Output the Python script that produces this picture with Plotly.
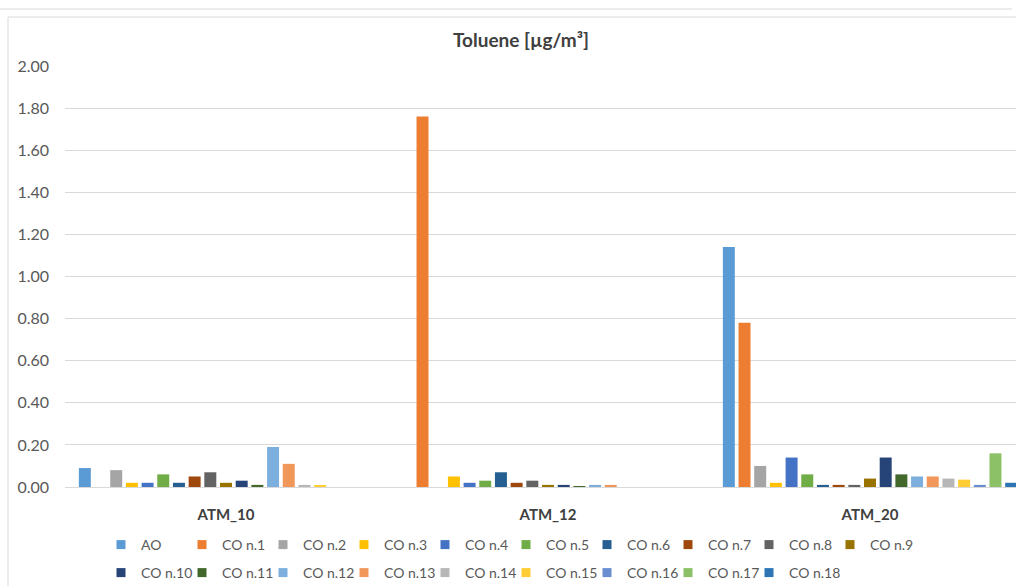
import plotly.graph_objects as go

# Sampling sites on the category axis
sites = ["ATM_10", "ATM_12", "ATM_20"]

# Series names (ambient reference + individual samples)
series_names = ["AO", "CO n.1", "CO n.2", "CO n.3", "CO n.4", "CO n.5", "CO n.6",
                "CO n.7", "CO n.8", "CO n.9", "CO n.10", "CO n.11", "CO n.12",
                "CO n.13", "CO n.14", "CO n.15", "CO n.16", "CO n.17", "CO n.18"]

# Toluene concentration per series at ATM_10, ATM_12, ATM_20 [µg/m³]
ao = [0.09, 0.00, 1.14]
co_1 = [0.00, 1.76, 0.78]
co_2 = [0.08, 0.00, 0.10]
co_3 = [0.02, 0.05, 0.02]
co_4 = [0.02, 0.02, 0.14]
co_5 = [0.06, 0.03, 0.06]
co_6 = [0.02, 0.07, 0.01]
co_7 = [0.05, 0.02, 0.01]
co_8 = [0.07, 0.03, 0.01]
co_9 = [0.02, 0.01, 0.04]
co_10 = [0.03, 0.01, 0.14]
co_11 = [0.01, 0.002, 0.06]
co_12 = [0.19, 0.01, 0.05]
co_13 = [0.11, 0.01, 0.05]
co_14 = [0.01, 0.00, 0.04]
co_15 = [0.008, 0.00, 0.035]
co_16 = [0.00, 0.00, 0.01]
co_17 = [0.00, 0.00, 0.16]
co_18 = [0.00, 0.00, 0.02]

series_values = [ao, co_1, co_2, co_3, co_4, co_5, co_6, co_7, co_8, co_9,
                 co_10, co_11, co_12, co_13, co_14, co_15, co_16, co_17, co_18]

# Y axis ticks
y_ticks = [0.0, 0.2, 0.4, 0.6, 0.8, 1.0, 1.2, 1.4, 1.6, 1.8, 2.0]
y_tick_labels = ["0.00", "0.20", "0.40", "0.60", "0.80", "1.00",
                 "1.20", "1.40", "1.60", "1.80", "2.00"]

palette = ["#5B9BD5", "#ED7D31", "#A5A5A5", "#FFC000", "#4472C4", "#70AD47",
           "#255E91", "#9E480E", "#636363", "#997300", "#264478", "#43682B",
           "#7CAFDD", "#F1975A", "#B7B7B7", "#FFCD33", "#698ED0", "#8CC168",
           "#2E75B6"]

FONT = "Lato"
W, H = 1016, 586
PLOT_TOP, PLOT_BOTTOM = 66, 487

fig = go.Figure()
for i, (name, vals) in enumerate(zip(series_names, series_values)):
    color = palette[i]
    legend_id = "legend" if i < 10 else "legend2"
    last_in_row = i in (9, 18)
    fig.add_trace(go.Bar(
        x=sites, y=vals, name=name, legendgroup=name,
        marker=dict(color=color, line=dict(width=0)),
        showlegend=False, hoverinfo="x+y+name",
    ))
    # small square swatch for the legend entry
    fig.add_trace(go.Scatter(
        x=[None], y=[None], mode="markers", name=name, legendgroup=name,
        marker=dict(symbol="square", size=9, color=color, line=dict(width=0)),
        legend=legend_id, showlegend=True,
        legendwidth=80 if last_in_row else None,
    ))

# plot area: x 65..1031 px (extends past the right edge), y 66..487 px
px_per_cat = 322.0
left_px = 65
x_hi = -0.5 + (W - left_px) / px_per_cat

legend_common = dict(orientation="h", xref="container", yref="container",
                     x=101 / W, xanchor="left", yanchor="middle",
                     entrywidth=36,
                     font=dict(family=FONT, size=14, color="#595959"),
                     bgcolor="rgba(0,0,0,0)", itemclick=False,
                     traceorder="normal")

fig.update_layout(
    width=W, height=H,
    margin=dict(l=left_px, r=0, t=PLOT_TOP, b=H - PLOT_BOTTOM, autoexpand=False),
    paper_bgcolor="white", plot_bgcolor="white",
    barmode="group", bargap=0.0745, bargroupgap=0.236,
    font=dict(family=FONT, color="#595959", size=16),
    title=dict(text="Toluene [µg/m³]", x=521 / W, xref="container",
               xanchor="center", y=1 - 40 / H, yref="container", yanchor="middle",
               font=dict(family=FONT, size=19, color="#404040", weight="bold")),
    showlegend=True,
    legend=dict(y=1 - 545 / H, **legend_common),
    legend2=dict(y=1 - 573 / H, **legend_common),
)

fig.update_xaxes(
    type="category", range=[-0.5, x_hi], showgrid=False,
    showline=True, linecolor="#D9D9D9", linewidth=1,
    ticks="", tickfont=dict(family=FONT, size=15, color="#404040", weight="bold"),
    ticklabelstandoff=14, fixedrange=True,
)
fig.update_yaxes(
    range=[0, 2.0], tickvals=y_ticks, ticktext=y_tick_labels,
    showgrid=True, gridcolor="#D9D9D9", gridwidth=1,
    zeroline=False, showline=False, ticks="",
    tickfont=dict(family=FONT, size=16, color="#595959"),
    ticklabelstandoff=15, fixedrange=True,
)

# chart frame (light border of the chart box and the box above it)
def px_x(p):
    return (p - left_px) / (W - left_px)

def px_y(p):
    return (PLOT_BOTTOM - p) / (PLOT_BOTTOM - PLOT_TOP)

frame = dict(color="#D9D9D9", width=1)
fig.add_shape(type="line", xref="paper", yref="paper",
              x0=px_x(0), x1=px_x(1012), y0=px_y(9), y1=px_y(9), line=frame)
fig.add_shape(type="line", xref="paper", yref="paper",
              x0=px_x(8), x1=px_x(1016), y0=px_y(17), y1=px_y(17), line=frame)
fig.add_shape(type="line", xref="paper", yref="paper",
              x0=px_x(8), x1=px_x(8), y0=px_y(17), y1=px_y(586), line=frame)

fig.write_html("out.html")
